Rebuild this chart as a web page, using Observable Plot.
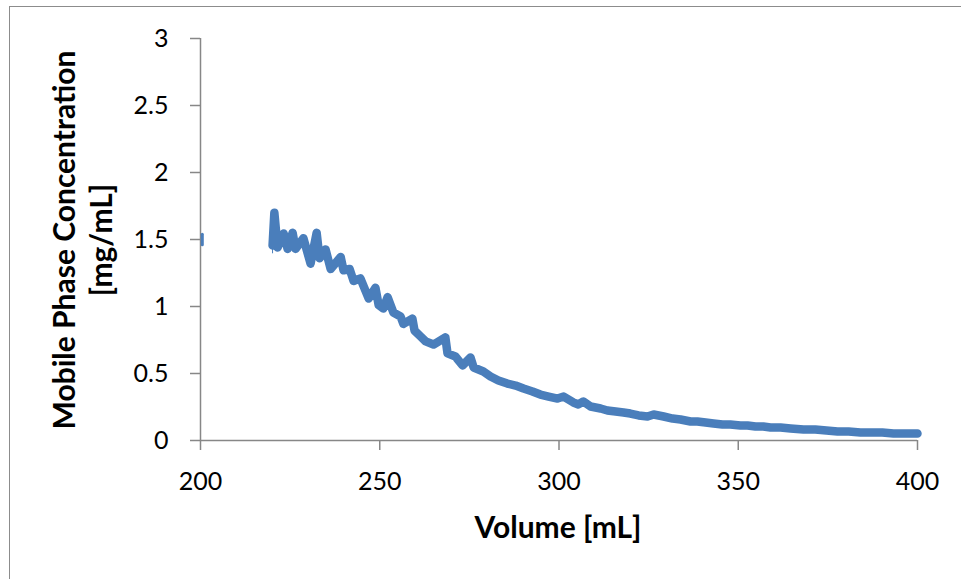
<!DOCTYPE html>
<html>
<head>
<meta charset="utf-8">
<script src="https://cdn.jsdelivr.net/npm/d3@7"></script>
<script src="https://cdn.jsdelivr.net/npm/@observablehq/plot@0.6"></script>
<style>
  html, body { margin: 0; padding: 0; background: #fff; overflow: hidden; }
  #wrap { position: relative; width: 961px; height: 579px; }
  #frame { position: absolute; left: 9px; top: 6px; width: 1200px; height: 1200px; border: 1.5px solid #8c8c8c; box-sizing: border-box; }
  #chart { position: absolute; left: 0; top: 0; }
  svg text { font-family: Lato, "Open Sans", sans-serif; }
</style>
</head>
<body>
<div id="wrap"><div id="frame"></div><div id="chart"></div></div>
<script>
// Volume [mL]
const volume = [220.1, 220.6, 221.5, 223.2, 224.3, 225.7, 226.5, 228.7, 230.7, 232.4, 233.2, 234.9, 236.3, 239.1, 239.9, 241.6, 242.7, 244.6, 246.9, 248.8, 249.7,
  251.0, 252.2, 253.8, 255.8, 256.6, 259.1, 259.7, 261.4, 262.8, 265.0, 268.3, 268.9, 271.1, 273.1, 275.3, 276.2, 278.9, 280.9, 283.1, 285.6, 287.9, 290.1,
  292.6, 294.8, 297.1, 299.6, 301.3, 304.0, 305.4, 306.8, 308.8, 311.6, 313.5, 315.8, 318.0, 319.9, 322.2, 324.7, 326.4, 329.2, 331.7, 333.9, 336.7, 338.6,
  340.9, 343.1, 345.6, 347.8, 350.6, 352.6, 354.8, 357.0, 359.0, 361.8, 364.6, 368.2, 371.5, 374.6, 377.7, 380.8, 384.1, 386.9, 390.2, 393.3, 396.1, 400.0];
// Mobile phase concentration [mg/mL]
const concentration = [1.455, 1.70, 1.44, 1.545, 1.43, 1.55, 1.43, 1.51, 1.32, 1.55, 1.36, 1.425, 1.28, 1.37, 1.27, 1.28, 1.19, 1.21, 1.06, 1.14, 1.01,
  0.985, 1.07, 0.955, 0.925, 0.87, 0.91, 0.82, 0.776, 0.74, 0.716, 0.77, 0.65, 0.627, 0.56, 0.62, 0.545, 0.515, 0.478, 0.448, 0.425, 0.41, 0.388,
  0.366, 0.343, 0.328, 0.313, 0.328, 0.284, 0.269, 0.291, 0.254, 0.239, 0.224, 0.216, 0.209, 0.201, 0.187, 0.179, 0.194, 0.179, 0.164, 0.157, 0.142, 0.142,
  0.134, 0.127, 0.119, 0.119, 0.112, 0.112, 0.104, 0.104, 0.097, 0.097, 0.090, 0.082, 0.082, 0.075, 0.067, 0.067, 0.060, 0.060, 0.060, 0.052, 0.052, 0.052];
// Isolated fragment at the left edge and the thin lead-in stroke
const edgeVolume = [200.5, 200.5];
const edgeConc = [1.46, 1.54];
const leadVolume = [220.1, 220.1];
const leadConc = [1.40, 1.60];

const xTicks = [200, 250, 300, 350, 400];
const yTicks = [0, 0.5, 1, 1.5, 2, 2.5, 3];
const xTitle = "Volume [mL]";
const yTitleLines = ["Mobile Phase Concentration", "[mg/mL]"];

const series = volume.map((v, i) => ({v, c: concentration[i]}));
const edge = edgeVolume.map((v, i) => ({v, c: edgeConc[i]}));
const lead = leadVolume.map((v, i) => ({v, c: leadConc[i]}));

const blue = "#4a7ebb";
const gray = "#878787";

const plot = Plot.plot({
  width: 961,
  height: 579,
  marginLeft: 200,
  marginRight: 44,
  marginTop: 38,
  marginBottom: 139,
  style: {background: "transparent", fontFamily: "Lato, sans-serif"},
  x: {domain: [200, 400]},
  y: {domain: [0, 3]},
  marks: [
    Plot.axisY({ticks: yTicks, tickSize: 10, tickPadding: 22, tickFormat: d => String(d), fontSize: 25, stroke: gray, strokeWidth: 1.5, strokeOpacity: 1, label: null, fill: "#000"}),
    Plot.axisX({ticks: xTicks, tickSize: 10, tickPadding: 22, tickFormat: d => String(d), fontSize: 25, stroke: gray, strokeWidth: 1.5, strokeOpacity: 1, label: null, fill: "#000"}),
    Plot.ruleX([200], {stroke: gray, strokeWidth: 1.5}),
    Plot.ruleY([0], {stroke: gray, strokeWidth: 1.5}),
    Plot.line(lead, {x: "v", y: "c", stroke: blue, strokeWidth: 1}),
    Plot.line(edge, {x: "v", y: "c", stroke: blue, strokeWidth: 3}),
    Plot.line(series, {x: "v", y: "c", stroke: blue, strokeWidth: 8.5, strokeLinejoin: "round", strokeLinecap: "round", curve: "linear"})
  ]
});

document.getElementById("chart").appendChild(plot);
const svg = d3.select(plot);
svg.append("text")
  .attr("x", 558).attr("y", 538)
  .attr("text-anchor", "middle")
  .attr("font-weight", "bold").attr("font-size", 30)
  .attr("fill", "#000")
  .text(xTitle);
[75, 112].forEach((bx, i) => {
  svg.append("text")
    .attr("transform", `translate(${bx},240) rotate(-90)`)
    .attr("text-anchor", "middle")
    .attr("font-weight", "bold").attr("font-size", 30)
    .attr("fill", "#000")
    .text(yTitleLines[i]);
});
</script>
</body>
</html>
